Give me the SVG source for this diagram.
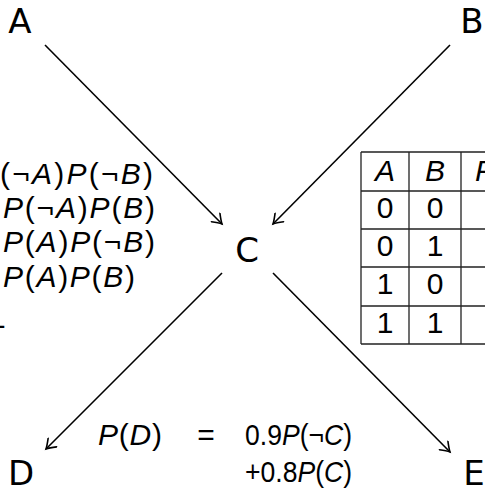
<svg xmlns="http://www.w3.org/2000/svg" width="485" height="490" viewBox="0 0 485 490">
  <defs>
    <style>
      .lbl { font-family: "DejaVu Sans", "Liberation Sans", sans-serif; font-size: 34px; fill: #000; text-anchor: middle; }
      .math { font-family: "Liberation Sans", "DejaVu Sans", sans-serif; font-size: 30px; fill: #000; }
      .it { font-style: italic; }
      .cell { font-family: "Liberation Sans", "DejaVu Sans", sans-serif; font-size: 30px; fill: #000; text-anchor: middle; }
      .edge { stroke: #000; stroke-width: 1.6; fill: none; marker-end: url(#arrow); }
      .grid { stroke: #222; stroke-width: 1.3; fill: none; }
    </style>
    <marker id="arrow" markerWidth="14" markerHeight="14" viewBox="-10 -7 12 14" refX="0" refY="0" orient="auto" markerUnits="userSpaceOnUse">
      <path d="M -9 -6 Q -3 -1.5 0 0 Q -3 1.5 -9 6" stroke="#000" stroke-width="1.6" fill="none" stroke-linecap="round"/>
    </marker>
  </defs>

  <rect width="485" height="490" fill="#fff"/>

  <!-- connectors -->
  <g id="edges">
    <line class="edge" x1="45" y1="45" x2="222" y2="224"/>
    <line class="edge" x1="450" y1="45" x2="273" y2="224"/>
    <line class="edge" x1="222" y1="273" x2="46" y2="449"/>
    <line class="edge" x1="273" y1="273" x2="450" y2="452"/>
  </g>

  <!-- nodes -->
  <g id="node-A"><text class="lbl" x="20" y="33">A</text></g>
  <g id="node-B"><text class="lbl" x="472" y="33">B</text></g>
  <g id="node-C"><text class="lbl" x="247" y="262">C</text></g>
  <g id="node-D"><text class="lbl" x="21" y="485">D</text></g>
  <g id="node-E"><text class="lbl" x="474" y="485">E</text></g>

  <!-- conditional terms for C -->
  <g id="cpt-C-terms" class="math">
    <text x="0" y="184" textLength="153" lengthAdjust="spacing">(¬<tspan class="it">A</tspan>)<tspan class="it">P</tspan>(¬<tspan class="it">B</tspan>)</text>
    <text x="3" y="218" textLength="152" lengthAdjust="spacing"><tspan class="it">P</tspan>(¬<tspan class="it">A</tspan>)<tspan class="it">P</tspan>(<tspan class="it">B</tspan>)</text>
    <text x="3" y="252" textLength="152" lengthAdjust="spacing"><tspan class="it">P</tspan>(<tspan class="it">A</tspan>)<tspan class="it">P</tspan>(¬<tspan class="it">B</tspan>)</text>
    <text x="3" y="287" textLength="132" lengthAdjust="spacing"><tspan class="it">P</tspan>(<tspan class="it">A</tspan>)<tspan class="it">P</tspan>(<tspan class="it">B</tspan>)</text>
    <text x="-11" y="328">1</text>
  </g>

  <!-- truth table for C -->
  <g id="table-C">
    <path class="grid" d="M361 152 H490 M361 191 H490 M361 229 H490 M361 267 H490 M361 306 H490 M361 344 H490 M361 152 V344 M409 152 V344 M461 152 V344"/>
    <text class="cell it" x="385" y="181">A</text>
    <text class="cell it" x="435" y="181">B</text>
    <text class="math it" x="475" y="181">P</text>
    <text class="cell" x="385" y="218">0</text><text class="cell" x="435" y="218">0</text>
    <text class="cell" x="385" y="256">0</text><text class="cell" x="435" y="256">1</text>
    <text class="cell" x="385" y="294">1</text><text class="cell" x="435" y="294">0</text>
    <text class="cell" x="385" y="333">1</text><text class="cell" x="435" y="333">1</text>
  </g>

  <!-- distribution of D -->
  <g id="cpt-D" class="math">
    <text x="98" y="445" textLength="64" lengthAdjust="spacing"><tspan class="it">P</tspan>(<tspan class="it">D</tspan>)</text>
    <text x="206" y="445" text-anchor="middle">=</text>
    <text x="245" y="445" textLength="107" lengthAdjust="spacingAndGlyphs">0.9<tspan class="it">P</tspan>(¬<tspan class="it">C</tspan>)</text>
    <text x="245" y="482" textLength="107" lengthAdjust="spacingAndGlyphs">+0.8<tspan class="it">P</tspan>(<tspan class="it">C</tspan>)</text>
  </g>
</svg>
